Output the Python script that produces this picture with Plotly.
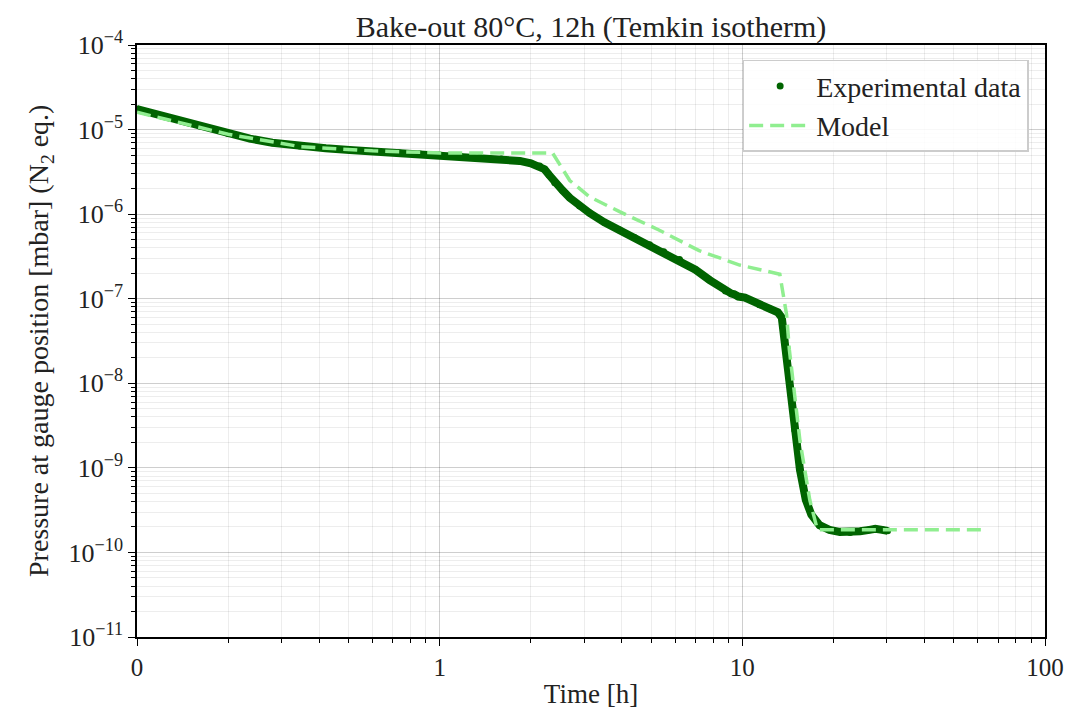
import plotly.graph_objects as go

# Experimental data (time in h, pressure in mbar)
exp_time = [0.1, 0.13, 0.161, 0.2, 0.236, 0.28, 0.345, 0.42, 0.504, 0.62, 0.738, 0.86, 1.0, 1.17,
            1.36, 1.6, 1.84, 2.0, 2.14, 2.22, 2.3, 2.4, 2.55, 2.69, 2.9, 3.13, 3.5, 3.93, 4.4,
            4.94, 5.5, 6.2, 7.0, 7.8, 8.8, 9.2, 9.4, 9.7, 10.2, 11.4, 12.3, 13.1, 13.5, 13.8,
            14.3, 14.9, 15.5, 16.2, 16.9, 18.0, 19.4, 21.0, 22.7, 24.5, 26.3, 27.5, 29.0, 30.2]
exp_pressure = [1.75e-5, 1.35e-5, 1.1e-5, 9.0e-6, 7.8e-6, 7.0e-6, 6.4e-6, 6.0e-6, 5.75e-6, 5.5e-6,
                5.3e-6, 5.15e-6, 5.0e-6, 4.85e-6, 4.7e-6, 4.5e-6, 4.26e-6, 4.0e-6, 3.7e-6, 3.4e-6,
                2.9e-6, 2.35e-6, 1.9e-6, 1.56e-6, 1.25e-6, 1.03e-6, 8.0e-7, 6.5e-7, 5.3e-7,
                4.35e-7, 3.6e-7, 2.9e-7, 2.2e-7, 1.66e-7, 1.23e-7, 1.15e-7, 1.13e-7, 1.06e-7,
                1.03e-7, 8.5e-8, 7.6e-8, 6.9e-8, 6.0e-8, 3.2e-8,
                1.1e-8, 2.8e-9, 9.5e-10, 4.2e-10, 2.8e-10, 2.1e-10, 1.85e-10, 1.75e-10, 1.72e-10,
                1.78e-10, 1.85e-10, 1.9e-10, 1.85e-10, 1.8e-10]

# Model
model_time = [0.1, 0.2, 0.345, 0.6, 1.0, 1.5, 2.36, 2.69, 3.13, 3.93, 5.3, 7.2, 9.8, 13.3,
              14.0, 14.3, 15.5, 16.7, 17.7, 64.5]
model_pressure = [1.6e-5, 8.8e-6, 6.3e-6, 5.6e-6, 5.3e-6, 5.3e-6, 5.3e-6, 2.5e-6, 1.6e-6, 1.07e-6,
                  6.5e-7, 3.7e-7, 2.5e-7, 1.95e-7, 6.5e-8, 2.5e-8, 2.1e-9, 4.2e-10, 1.85e-10, 1.85e-10]

x_tickvals = [0.1, 1, 10, 100]
x_ticktext = ["0", "1", "10", "100"]
y_tickvals = [1e-4, 1e-5, 1e-6, 1e-7, 1e-8, 1e-9, 1e-10, 1e-11]
y_ticktext = ["10<sup>−4</sup>", "10<sup>−5</sup>", "10<sup>−6</sup>", "10<sup>−7</sup>",
              "10<sup>−8</sup>", "10<sup>−9</sup>", "10<sup>−10</sup>", "10<sup>−11</sup>"]

font_family = "Liberation Serif"
dark = "#006400"
light = "#90EE90"

fig = go.Figure()
fig.add_trace(go.Scatter(x=exp_time, y=exp_pressure, mode="lines",
                         line=dict(color=dark, width=8), showlegend=False, hoverinfo="skip"))
fig.add_trace(go.Scatter(x=exp_time, y=exp_pressure, mode="markers", name="Experimental data",
                         marker=dict(color=dark, size=7)))
fig.add_trace(go.Scatter(x=model_time, y=model_pressure, mode="lines", name="Model",
                         line=dict(color=light, width=3.5, dash="14px,7px")))

grid_major = "rgba(0,0,0,0.13)"
grid_minor = "rgba(0,0,0,0.07)"

W, H = 1073, 706  # page body adds an 8px offset
L, R, T, B = 129, 36, 37, 77
plot_w = W - L - R

fig.update_layout(
    width=W, height=H,
    margin=dict(l=L, r=R, t=T, b=B),
    paper_bgcolor="white", plot_bgcolor="white",
    font=dict(family=font_family, size=25, color="#222"),
    title=dict(text="Bake-out 80°C, 12h (Temkin isotherm)", x=(L + (W - R)) / 2 / W,
               xanchor="center", y=1 - 18 / H, yanchor="middle",
               font=dict(family=font_family, size=30, color="#222")),
    legend=dict(x=0.982, y=0.975, xanchor="right", yanchor="top",
                bgcolor="rgba(255,255,255,0.85)", bordercolor="#cccccc", borderwidth=1.5,
                font=dict(family=font_family, size=28, color="#222"),
                itemwidth=62, tracegroupgap=0),
    annotations=[dict(text="Pressure at gauge position [mbar] (N<sub>2</sub> eq.)",
                      textangle=-90, xref="paper", yref="paper", x=-97 / plot_w, y=0.5,
                      xanchor="center", yanchor="middle", showarrow=False,
                      font=dict(family=font_family, size=28, color="#222"))],
)
fig.update_xaxes(type="log", range=[-1, 2], tickvals=x_tickvals, ticktext=x_ticktext,
                 automargin=False,
                 showline=True, linecolor="black", linewidth=1.5, mirror=True,
                 ticks="outside", ticklen=7, tickwidth=1.2, tickcolor="black",
                 showgrid=True, gridcolor=grid_major, gridwidth=1,
                 minor=dict(dtick="D1", ticks="outside", ticklen=4, tickcolor="black",
                            showgrid=True, gridcolor=grid_minor, gridwidth=1),
                 title=dict(text="Time [h]", font=dict(size=27), standoff=4),
                 tickfont=dict(size=25), zeroline=False)
fig.update_yaxes(type="log", range=[-11, -4], tickvals=y_tickvals, ticktext=y_ticktext,
                 automargin=False,
                 showline=True, linecolor="black", linewidth=1.5, mirror=True,
                 ticks="outside", ticklen=7, tickwidth=1.2, tickcolor="black",
                 showgrid=True, gridcolor=grid_major, gridwidth=1,
                 minor=dict(dtick="D1", ticks="outside", ticklen=4, tickcolor="black",
                            showgrid=True, gridcolor=grid_minor, gridwidth=1),
                 tickfont=dict(size=26), zeroline=False)

fig.write_html("out.html")
